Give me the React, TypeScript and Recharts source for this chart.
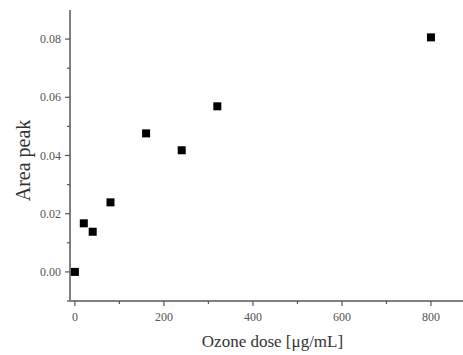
import React from "react";
import { ScatterChart, Scatter, XAxis, YAxis } from "recharts";

const doses = [0, 20, 40, 80, 160, 240, 320, 800];
const areaPeaks = [0.0, 0.0167, 0.0138, 0.0239, 0.0476, 0.0418, 0.0569, 0.0806];
const xTicks = [0, 100, 200, 300, 400, 500, 600, 700, 800];
const xLabelTicks = [0, 200, 400, 600, 800];
const yTicks = [-0.01, 0.0, 0.01, 0.02, 0.03, 0.04, 0.05, 0.06, 0.07, 0.08];
const yLabelTicks = ["0.00", "0.02", "0.04", "0.06", "0.08"];

const data = doses.map((d, i) => ({ x: d, y: areaPeaks[i] }));

const FONT = "'Liberation Serif', 'DejaVu Serif', serif";
const AXIS = "#808080";

const XTick = (props: any) => {
  const { x, y, payload } = props;
  const major = xLabelTicks.includes(payload.value);
  return (
    <g>
      <line x1={x} x2={x} y1={y} y2={y + (major ? 5 : 3)} stroke="#555" strokeWidth={1.2} />
      {major && (
        <text x={x} y={y + 20} textAnchor="middle" style={{ fontFamily: FONT, fontSize: 12, fill: "#555" }}>
          {payload.value}
        </text>
      )}
    </g>
  );
};

const YTick = (props: any) => {
  const { x, y, payload } = props;
  const label = Number(payload.value).toFixed(2);
  const major = yLabelTicks.includes(label) && Math.abs(Math.round(payload.value * 100) % 2) === 0;
  return (
    <g>
      <line x1={x - (major ? 5 : 3)} x2={x} y1={y} y2={y} stroke="#555" strokeWidth={1.2} />
      {major && (
        <text x={x - 9} y={y + 4} textAnchor="end" style={{ fontFamily: FONT, fontSize: 12, fill: "#555" }}>
          {label}
        </text>
      )}
    </g>
  );
};

const Square = (props: any) => {
  const { cx, cy } = props;
  return <rect x={cx - 4} y={cy - 4} width={8} height={8} fill="#000" />;
};

export default function App() {
  return (
    <div style={{ position: "absolute", left: 0, top: 0, background: "#fff" }}>
      <ScatterChart width={463} height={355} margin={{ top: 10, right: 0, left: 0, bottom: 0 }}>
        <XAxis
          type="number"
          dataKey="x"
          domain={[-11, 872]}
          ticks={xTicks}
          interval={0}
          tickSize={0}
          tickMargin={0}
          tickLine={false}
          tick={<XTick />}
          height={54}
          axisLine={{ stroke: AXIS, strokeWidth: 2 }}
          label={{
            value: "Ozone dose [\u03bcg/mL]",
            position: "insideBottom",
            offset: 8,
            dx: 6,
            style: { fontFamily: FONT, fontSize: 17, fill: "#333" },
          }}
        />
        <YAxis
          type="number"
          dataKey="y"
          domain={[-0.01, 0.09]}
          ticks={yTicks}
          interval={0}
          tickSize={0}
          tickMargin={0}
          tickLine={false}
          tick={<YTick />}
          width={70}
          axisLine={{ stroke: AXIS, strokeWidth: 2 }}
          label={{
            value: "Area peak",
            angle: -90,
            position: "insideLeft",
            offset: 0,
            dx: 23,
            dy: 5,
            style: { fontFamily: FONT, fontSize: 20, fill: "#333", textAnchor: "middle" },
          }}
        />
        <Scatter data={data} shape={<Square />} isAnimationActive={false} />
      </ScatterChart>
    </div>
  );
}
